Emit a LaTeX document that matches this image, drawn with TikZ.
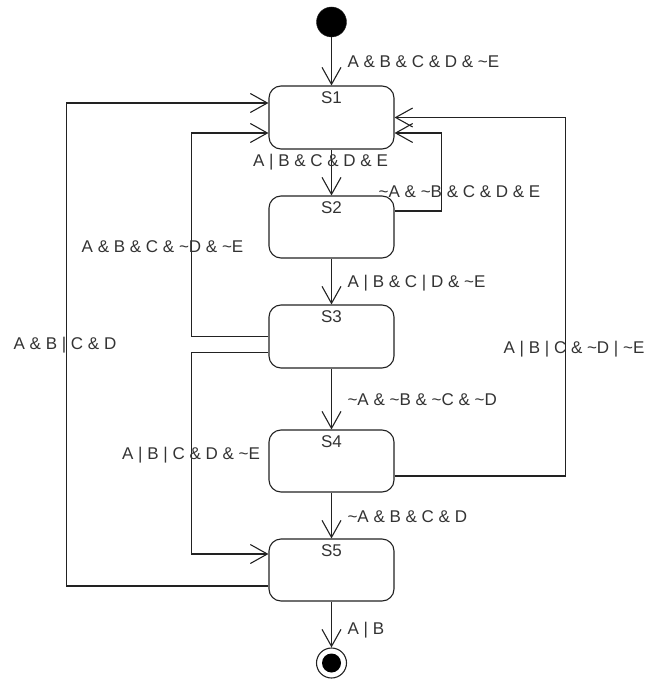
\documentclass[tikz,border=0pt]{standalone}
\usepackage{fontspec}
\setmainfont{Liberation Sans}
\usetikzlibrary{arrows.meta}
\definecolor{ln}{HTML}{222222}
\definecolor{tx}{HTML}{333333}
\tikzset{
  state/.style={draw=ln, line width=1.1pt, rounded corners=12pt, minimum width=125pt, minimum height=62pt, inner sep=0pt},
  stname/.style={text=tx, font=\fontsize{17}{20}\selectfont, inner sep=0pt, anchor=north},
  tr/.style={draw=ln, line width=1.1pt, -{Straight Barb[length=17pt,width=19pt,line width=1.1pt]}},
  lbl/.style={text=tx, font=\fontsize{17}{20}\selectfont, inner sep=0pt},
}
\begin{document}
\begin{tikzpicture}[x=1pt,y=-1pt]
\useasboundingbox (0,0) rectangle (648,679);
% nodes
\node[circle, fill=black, draw=ln, minimum size=30pt, inner sep=0pt] (init) at (331.5,22) {};
\node[state, minimum height=63pt, label={[stname, yshift=-6pt]north:S1}] (s1) at (331.5,117.5) {};
\node[state, label={[stname, yshift=-6pt]north:S2}] (s2) at (331.5,227) {};
\node[state, minimum height=63pt, label={[stname, yshift=-6pt]north:S3}] (s3) at (331.5,336.5) {};
\node[state, label={[stname, yshift=-6pt]north:S4}] (s4) at (331.5,461) {};
\node[state, label={[stname, yshift=-6pt]north:S5}] (s5) at (331.5,570) {};
\node[circle, draw=ln, line width=1.1pt, minimum size=30pt, inner sep=0pt] (fin) at (331.5,663) {};
\fill[black] (fin.center) circle (9.5pt);
% transitions
\draw[tr] (init) -- (s1) node[lbl, anchor=west] at (347,62) {A \& B \& C \& D \& \textasciitilde E};
\draw[tr] (s1) -- (s2) node[lbl] at (320.5,162) {A | B \& C \& D \& E};
\draw[tr] ([yshift=16pt]s2.east) -- ++(47,0) |- ([yshift=-15.5pt]s1.east)
  node[lbl] at (459.5,192) {\textasciitilde A \& \textasciitilde B \& C \& D \& E};
\draw[tr] (s2) -- (s3) node[lbl, anchor=west] at (347,283) {A | B \& C | D \& \textasciitilde E};
\draw[tr] (s3.west) -- ++(-77,0) |- ([yshift=-15.5pt]s1.west)
  node[lbl] at (162.5,247) {A \& B \& C \& \textasciitilde D \& \textasciitilde E};
\draw[tr] ([yshift=-16pt]s3.west) -- ++(-77,0) |- ([yshift=16pt]s5.west)
  node[lbl] at (191,455) {A | B | C \& D \& \textasciitilde E};
\draw[tr] (s3) -- (s4) node[lbl, anchor=west] at (347,400) {\textasciitilde A \& \textasciitilde B \& \textasciitilde C \& \textasciitilde D};
\draw[tr] ([yshift=-15pt]s4.east) -- ++(171,0) |- (s1.east)
  node[lbl] at (574,349) {A | B | C \& \textasciitilde D | \textasciitilde E};
\draw[tr] (s4) -- (s5) node[lbl, anchor=west] at (347,517) {\textasciitilde A \& B \& C \& D};
\draw[tr] ([yshift=-16pt]s5.west) -- ++(-202,0) |- ([yshift=14.5pt]s1.west)
  node[lbl] at (65,345) {A \& B | C \& D};
\draw[tr] (s5) -- (fin) node[lbl, anchor=west] at (347,630) {A | B};
\end{tikzpicture}
\end{document}
